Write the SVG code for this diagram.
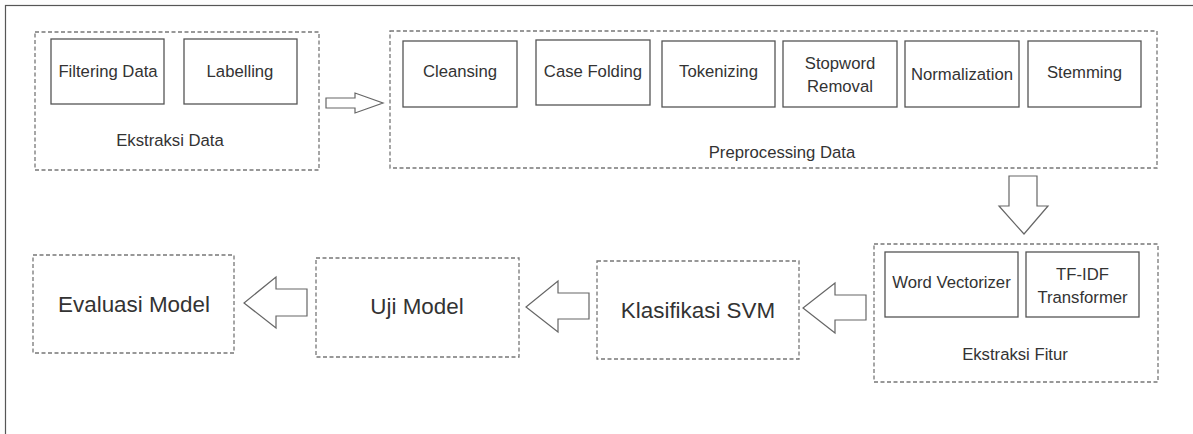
<svg xmlns="http://www.w3.org/2000/svg" width="1193" height="434" viewBox="0 0 1193 434">
<style>
text{font-family:"Liberation Sans",Arial,sans-serif;fill:#333;text-anchor:middle}
.s{font-size:16.7px}
.l{font-size:22.4px}
.box{fill:#fff;stroke:#555;stroke-width:1.3}
.dash{fill:none;stroke:#777;stroke-width:1.3;stroke-dasharray:4 2.5}
.arr{fill:#fff;stroke:#666;stroke-width:1.2;stroke-linejoin:miter}
</style>
<rect x="0" y="0" width="1193" height="434" fill="#fdfdfd"/>
<rect x="5.5" y="5.5" width="1200" height="440" fill="#fff" stroke="#555" stroke-width="1.2"/>

<g id="ekstraksi-data">
<rect class="dash" x="35" y="32" width="284" height="138"/>
<text class="s" x="170" y="146">Ekstraksi Data</text>
</g>
<g id="filtering-data">
<rect class="box" x="51" y="39" width="113" height="65"/>
<text class="s" x="108" y="77">Filtering Data</text>
</g>
<g id="labelling">
<rect class="box" x="184" y="39" width="113" height="65"/>
<text class="s" x="240" y="77">Labelling</text>
</g>

<g id="preprocessing-data">
<rect class="dash" x="390" y="31" width="767" height="137"/>
<text class="s" x="782" y="158">Preprocessing Data</text>
</g>
<g id="cleansing">
<rect class="box" x="403" y="41" width="114" height="66"/>
<text class="s" x="460" y="77">Cleansing</text>
</g>
<g id="case-folding">
<rect class="box" x="536" y="40" width="114" height="65"/>
<text class="s" x="593" y="77">Case Folding</text>
</g>
<g id="tokenizing">
<rect class="box" x="662" y="41" width="113" height="66"/>
<text class="s" x="718.5" y="77">Tokenizing</text>
</g>
<g id="stopword-removal">
<rect class="box" x="783" y="41" width="114" height="66"/>
<text class="s" x="840" y="69">Stopword</text>
<text class="s" x="840" y="92">Removal</text>
</g>
<g id="normalization">
<rect class="box" x="905" y="41" width="114" height="66"/>
<text class="s" x="962" y="80">Normalization</text>
</g>
<g id="stemming">
<rect class="box" x="1028" y="41" width="113" height="66"/>
<text class="s" x="1084.5" y="78">Stemming</text>
</g>

<g id="ekstraksi-fitur">
<rect class="dash" x="874" y="244" width="284" height="138"/>
<text class="s" x="1015" y="360">Ekstraksi Fitur</text>
</g>
<g id="word-vectorizer">
<rect class="box" x="885" y="252" width="133" height="65"/>
<text class="s" x="951.5" y="288">Word Vectorizer</text>
</g>
<g id="tfidf-transformer">
<rect class="box" x="1026" y="252" width="113" height="65"/>
<text class="s" x="1082.5" y="280">TF-IDF</text>
<text class="s" x="1082.5" y="303">Transformer</text>
</g>

<g id="klasifikasi-svm">
<rect class="dash" x="597" y="261" width="202" height="98"/>
<text class="l" x="698" y="318">Klasifikasi SVM</text>
</g>
<g id="uji-model">
<rect class="dash" x="316" y="258" width="203" height="99"/>
<text class="l" x="417" y="314">Uji Model</text>
</g>
<g id="evaluasi-model">
<rect class="dash" x="33" y="255" width="201" height="98"/>
<text class="l" x="134" y="312">Evaluasi Model</text>
</g>

<g id="connectors">
<polygon class="arr" points="326,98 355,98 355,93 383,103 355,113 355,108 326,108"/>
<polygon class="arr" points="1009,176 1037,176 1037,206 1048,206 1024,234 999,206 1009,206"/>
<polygon class="arr" points="866,295 835,295 835,283 803,308 835,333 835,320 866,320"/>
<polygon class="arr" points="589,293 558,293 558,281 526,307 558,332 558,319 589,319"/>
<polygon class="arr" points="307,289 276,289 276,277 244,303 276,328 276,316 307,316"/>
</g>
</svg>
